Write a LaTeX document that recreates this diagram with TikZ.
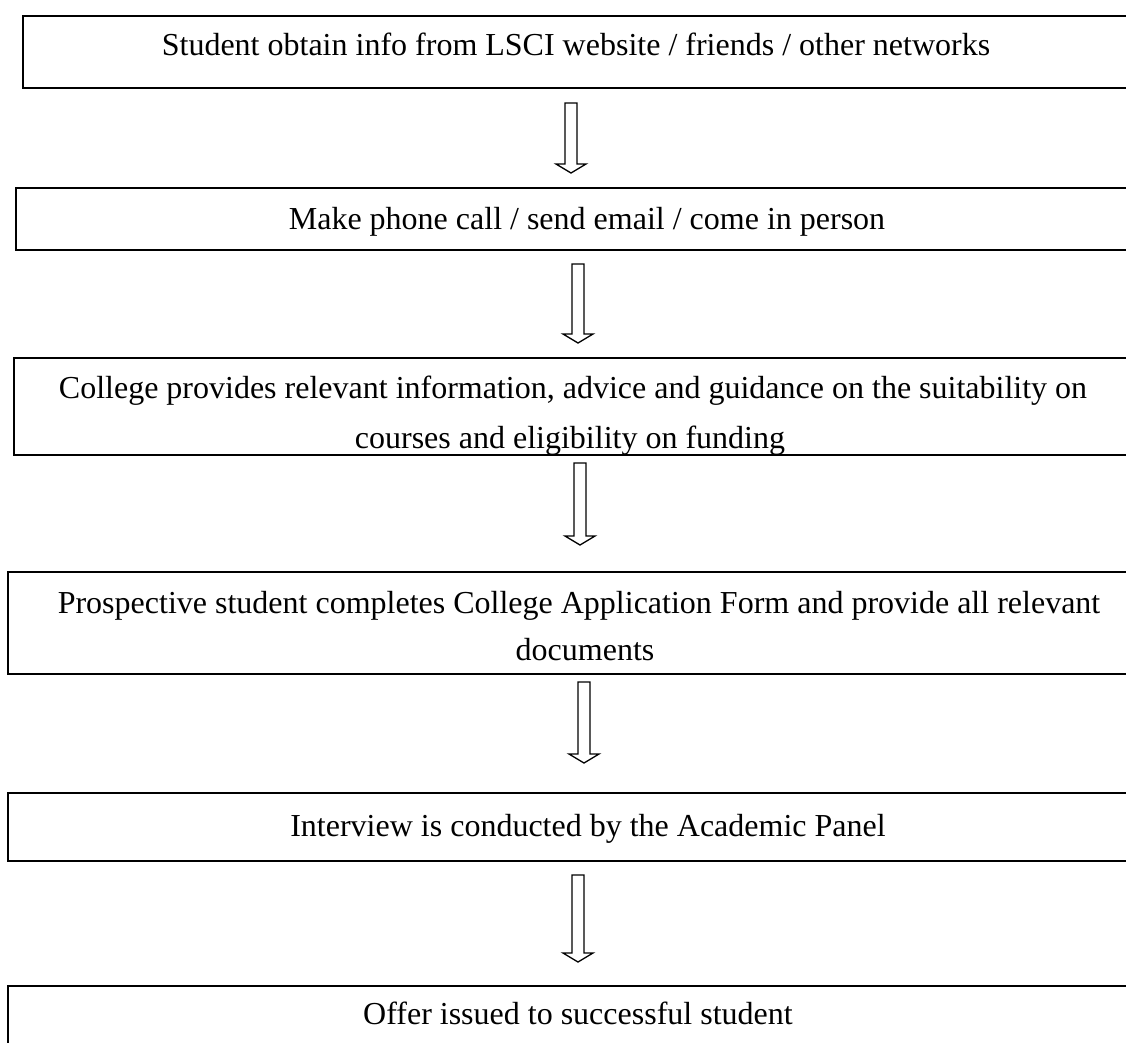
\documentclass[tikz,border=0pt]{standalone}
\usepackage{fontspec}
\setmainfont{Liberation Serif}
\begin{document}
\begin{tikzpicture}[x=1pt,y=-1pt]
\tikzset{
  box/.style={draw, line width=1.6pt, anchor=north west, inner sep=0pt, minimum width=#1},
  box/.default=1130pt,
  txt/.style={anchor=base, inner sep=0pt, font=\fontsize{32}{38}\selectfont},
  hollow/.style={draw, line width=1.3pt, fill=white, line join=miter}
}
\useasboundingbox (0,0) rectangle (1126,1042);
\clip (0,0) rectangle (1126,1042);
\fill[white] (0,0) rectangle (1126,1042);
% boxes
\node[box=1130pt, minimum height=72pt] (b1) at (22,15) {};
\node[box=1137pt, minimum height=62pt] (b2) at (15,187) {};
\node[box=1139pt, minimum height=97pt] (b3) at (13,357) {};
\node[box=1145pt, minimum height=102pt] (b4) at (7,571) {};
\node[box=1145pt, minimum height=68pt] (b5) at (7,792) {};
\node[box=1145pt, minimum height=80pt] (b6) at (7,985) {};
% texts
\node[txt] (t1) at (576,55) {Student obtain info from LSCI website / friends / other networks};
\node[txt] (t2) at (587,229) {Make phone call / send email / come in person};
\node[txt] (t3a) at (573,398) {College provides relevant information, advice and guidance on the suitability on};
\node[txt] (t3b) at (570,448) {courses and eligibility on funding};
\node[txt] (t4a) at (579,613) {Prospective student completes College Application Form and provide all relevant};
\node[txt] (t4b) at (585,660) {documents};
\node[txt] (t5) at (588,836) {Interview is conducted by the Academic Panel};
\node[txt] (t6) at (578,1024) {Offer issued to successful student};
% hollow arrows
\newcommand{\hollowarrow}[3]{%
  \draw[hollow] (#1-6,#2) -- (#1+6,#2) -- (#1+6,#3-9) -- (#1+15,#3-9) -- (#1,#3)
    -- (#1-15,#3-9) -- (#1-6,#3-9) -- cycle;}
\hollowarrow{571}{103}{173}
\hollowarrow{578}{264}{343}
\hollowarrow{580}{463}{545}
\hollowarrow{584}{682}{763}
\hollowarrow{578}{875}{962}
\end{tikzpicture}
\end{document}
